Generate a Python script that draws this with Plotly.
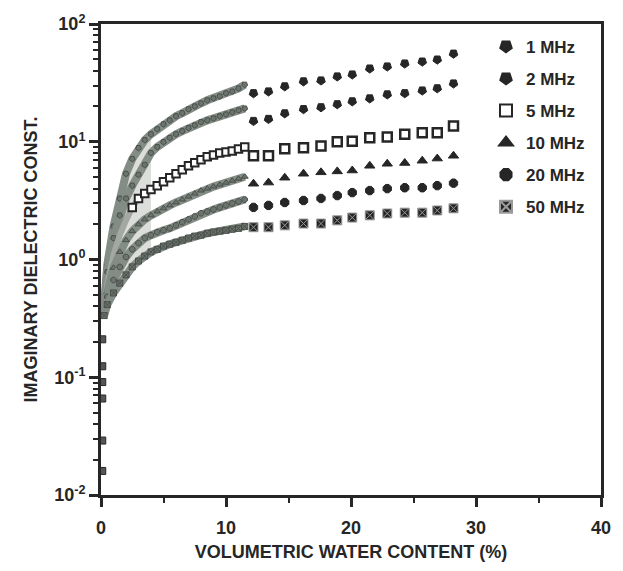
import plotly.graph_objects as go

# ---------------- data ----------------
series_names = ["1 MHz", "2 MHz", "5 MHz", "10 MHz", "20 MHz", "50 MHz"]

# dense (continuous) measurements, volumetric water content (%)
x_dense = [0.25, 0.5, 1.0, 1.5, 2.0, 2.5, 3.0, 3.5, 4.0, 4.5, 5.0, 5.5,
           6.0, 6.5, 7.0, 7.5, 8.0, 8.5, 9.0, 9.5, 10.0, 10.5, 11.0, 11.5]

dense_1mhz = [0.41, 0.90, 1.91, 3.30, 5.35, 7.16, 8.86, 10.35, 11.6, 12.8, 14.1, 15.2,
              16.5, 17.5, 18.9, 20.0, 21.2, 22.5, 23.4, 24.3, 25.8, 26.7, 28.4, 30.6]
dense_2mhz = [0.39, 0.785, 1.52, 2.37, 3.30, 4.24, 5.25, 6.37, 8.04, 9.03, 9.95, 10.8,
              11.6, 12.3, 13.1, 13.8, 14.7, 15.2, 15.8, 16.5, 17.1, 17.8, 18.5, 19.2]
dense_5mhz = [0.376, 0.61, 1.09, 1.61, 2.15, 2.77, 3.30, 3.63, 3.93, 4.24, 4.58, 4.95,
              5.35, 5.78, 6.25, 6.62, 7.02, 7.44, 7.73, 8.04, 8.20, 8.36, 8.69, 9.03]
dense_10mhz = [0.361, 0.53, 0.85, 1.16, 1.46, 1.74, 1.99, 2.19, 2.37, 2.56, 2.72, 2.88,
               3.05, 3.23, 3.42, 3.63, 3.85, 4.00, 4.16, 4.32, 4.49, 4.67, 4.85, 5.05]
dense_20mhz = [0.348, 0.483, 0.67, 0.865, 1.05, 1.22, 1.38, 1.52, 1.61, 1.71, 1.77, 1.84,
               1.95, 2.07, 2.19, 2.32, 2.47, 2.56, 2.66, 2.77, 2.88, 2.99, 3.11, 3.23]
dense_50mhz = [0.334, 0.414, 0.52, 0.63, 0.74, 0.865, 0.97, 1.07, 1.16, 1.22, 1.30, 1.35,
               1.40, 1.46, 1.52, 1.58, 1.61, 1.67, 1.71, 1.74, 1.77, 1.81, 1.84, 1.91]

# discrete measurements
x_disc = [12.2, 13.4, 14.7, 16.2, 17.6, 18.9, 20.1, 21.5, 22.9, 24.3, 25.7, 26.9, 28.2]
disc_1mhz = [25.8, 26.7, 29.5, 32.5, 33.1, 35.8, 37.2, 41.8, 43.5, 46.1, 47.9, 49.8, 55.9]
disc_2mhz = [15.0, 15.6, 17.4, 18.9, 19.6, 20.8, 22.0, 23.3, 25.2, 25.8, 27.2, 28.4, 31.2]
disc_5mhz = [7.6, 7.6, 8.7, 8.9, 9.2, 10.0, 10.1, 10.8, 11.0, 11.6, 11.9, 11.9, 13.6]
disc_10mhz = [4.4, 4.5, 4.95, 5.35, 5.5, 5.6, 5.7, 6.25, 6.5, 6.6, 6.9, 7.2, 7.6]
disc_20mhz = [2.77, 2.88, 3.05, 3.17, 3.3, 3.49, 3.7, 3.85, 4.0, 4.07, 4.07, 4.24, 4.45]
disc_50mhz = [1.88, 1.88, 1.95, 2.02, 2.02, 2.15, 2.27, 2.37, 2.46, 2.5, 2.5, 2.61, 2.72]

# oven-dry values (near 0 %)
dry_x = [0.1, 0.1, 0.1, 0.1, 0.1, 0.1]
dry_y = [0.21, 0.124, 0.029, 0.091, 0.066, 0.016]

x_ticks = [0, 10, 20, 30, 40]
y_ticks = [0.01, 0.1, 1, 10, 100]
y_ticktext = ["10<sup>-2</sup>", "10<sup>-1</sup>", "10<sup>0</sup>",
              "10<sup>1</sup>", "10<sup>2</sup>"]

dense_all = [dense_1mhz, dense_2mhz, dense_5mhz, dense_10mhz, dense_20mhz, dense_50mhz]
disc_all = [disc_1mhz, disc_2mhz, disc_5mhz, disc_10mhz, disc_20mhz, disc_50mhz]

# ---------------- styles ----------------
INK = "#262626"
BAND = "#838c85"
FONT = "Liberation Sans, Arial, sans-serif"

styles = [
    dict(symbol="pentagon", angle=180, color=INK, line=dict(color=INK, width=1)),
    dict(symbol="pentagon", angle=180, color=INK, line=dict(color=INK, width=1)),
    dict(symbol="square", angle=0, color="white", line=dict(color=INK, width=2.5)),
    dict(symbol="triangle-up", angle=0, color=INK, line=dict(color=INK, width=1)),
    dict(symbol="octagon", angle=0, color=INK, line=dict(color=INK, width=1)),
    dict(symbol="square-x", angle=0, color=INK, line=dict(color="#9a9a9a", width=1)),
]

fig = go.Figure()

# light-grey smear at low water content (between outermost bands)
k = 9
fig.add_trace(go.Scatter(
    x=x_dense[:k] + x_dense[:k][::-1],
    y=dense_1mhz[:k] + dense_50mhz[:k][::-1],
    fill="toself", fillcolor="#dcdedc", line=dict(width=0),
    mode="lines", showlegend=False, hoverinfo="skip"))

for i, name in enumerate(series_names):
    st = styles[i]
    grp = "g%d" % i
    if i == 2:
        # grey band at low water content, then a chain of open squares
        fig.add_trace(go.Scatter(
            x=x_dense, y=dense_all[i], mode="lines",
            line=dict(color="#a3a8a4", width=6),
            legendgroup=grp, showlegend=False, name=name, hoverinfo="skip"))
        fig.add_trace(go.Scatter(
            x=x_dense[5:], y=dense_all[i][5:], mode="markers",
            marker=dict(symbol="square", size=7.5, color="white",
                        line=dict(color=INK, width=2)),
            legendgroup=grp, showlegend=False, name=name))
    else:
        fig.add_trace(go.Scatter(
            x=x_dense, y=dense_all[i], mode="lines+markers",
            line=dict(color=BAND, width=8),
            marker=dict(symbol=st["symbol"], angle=st["angle"], size=6,
                        color="#6c746e", line=dict(color="#4a4f4b", width=1)),
            legendgroup=grp, showlegend=False, name=name))
    fig.add_trace(go.Scatter(
        x=x_disc, y=disc_all[i], mode="markers",
        marker=dict(symbol=st["symbol"], angle=st["angle"], size=9,
                    color=st["color"], line=st["line"]),
        legendgroup=grp, showlegend=True, name=name))

fig.add_trace(go.Scatter(
    x=dry_x, y=dry_y, mode="markers",
    marker=dict(symbol="square", size=7, color="#555", line=dict(color=INK, width=1)),
    showlegend=False))

minor_y = [m * 10 ** e for e in range(-2, 2) for m in range(2, 10)]

fig.update_layout(
    width=623, height=571,
    margin=dict(l=101, r=13, t=22, b=74),
    paper_bgcolor="white", plot_bgcolor="white",
    font=dict(family=FONT, color=INK),
    legend=dict(
        x=0.77, y=0.99, xanchor="left", yanchor="top",
        traceorder="grouped", tracegroupgap=7,
        font=dict(family=FONT, size=17, weight="bold", color=INK),
        bgcolor="rgba(0,0,0,0)", itemsizing="constant"),
    xaxis=dict(
        range=[0, 40], tickmode="array", tickvals=x_ticks,
        ticks="outside", ticklen=9, tickwidth=2.5, tickcolor=INK,
        minor=dict(tickvals=[5, 15, 25, 35], ticks="outside", ticklen=5,
                   tickwidth=2, tickcolor=INK),
        showline=True, linewidth=3, linecolor=INK, mirror=True,
        showgrid=False, zeroline=False,
        tickfont=dict(family=FONT, size=18, weight="bold", color=INK),
        ticklabelstandoff=5,
        title=dict(text="VOLUMETRIC WATER CONTENT (%)", standoff=9,
                   font=dict(family=FONT, size=18, weight="bold", color=INK)),
    ),
    yaxis=dict(
        type="log", range=[-2, 2], tickmode="array",
        tickvals=y_ticks, ticktext=y_ticktext,
        ticks="outside", ticklen=9, tickwidth=2.5, tickcolor=INK,
        minor=dict(tickvals=minor_y, ticks="outside", ticklen=5,
                   tickwidth=2, tickcolor=INK),
        showline=True, linewidth=3, linecolor=INK, mirror=True,
        showgrid=False, zeroline=False,
        tickfont=dict(family=FONT, size=18, weight="bold", color=INK),
        title=dict(text="IMAGINARY DIELECTRIC CONST.", standoff=12,
                   font=dict(family=FONT, size=18, weight="bold", color=INK)),
    ),
)

fig.write_html("out.html")
